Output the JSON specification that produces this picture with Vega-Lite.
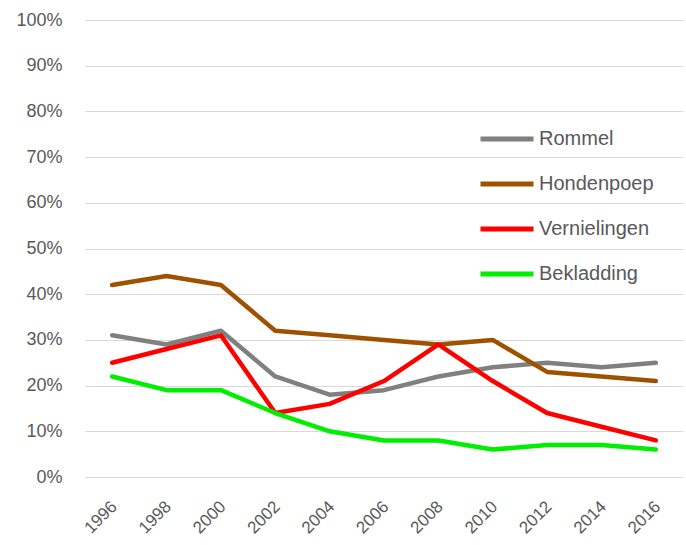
{
  "$schema": "https://vega.github.io/schema/vega-lite/v6.json",
  "width": 598,
  "height": 457,
  "autosize": {"type": "none"},
  "padding": {"left": 85, "top": 20, "right": 3, "bottom": 68},
  "background": "white",
  "config": {
    "view": {"stroke": null},
    "font": "Liberation Sans"
  },
  "data": {
    "values": [
      {"jaar": "1996", "serie": "Rommel", "waarde": 0.31},
      {"jaar": "1998", "serie": "Rommel", "waarde": 0.29},
      {"jaar": "2000", "serie": "Rommel", "waarde": 0.32},
      {"jaar": "2002", "serie": "Rommel", "waarde": 0.22},
      {"jaar": "2004", "serie": "Rommel", "waarde": 0.18},
      {"jaar": "2006", "serie": "Rommel", "waarde": 0.19},
      {"jaar": "2008", "serie": "Rommel", "waarde": 0.22},
      {"jaar": "2010", "serie": "Rommel", "waarde": 0.24},
      {"jaar": "2012", "serie": "Rommel", "waarde": 0.25},
      {"jaar": "2014", "serie": "Rommel", "waarde": 0.24},
      {"jaar": "2016", "serie": "Rommel", "waarde": 0.25},
      {"jaar": "1996", "serie": "Hondenpoep", "waarde": 0.42},
      {"jaar": "1998", "serie": "Hondenpoep", "waarde": 0.44},
      {"jaar": "2000", "serie": "Hondenpoep", "waarde": 0.42},
      {"jaar": "2002", "serie": "Hondenpoep", "waarde": 0.32},
      {"jaar": "2004", "serie": "Hondenpoep", "waarde": 0.31},
      {"jaar": "2006", "serie": "Hondenpoep", "waarde": 0.30},
      {"jaar": "2008", "serie": "Hondenpoep", "waarde": 0.29},
      {"jaar": "2010", "serie": "Hondenpoep", "waarde": 0.30},
      {"jaar": "2012", "serie": "Hondenpoep", "waarde": 0.23},
      {"jaar": "2014", "serie": "Hondenpoep", "waarde": 0.22},
      {"jaar": "2016", "serie": "Hondenpoep", "waarde": 0.21},
      {"jaar": "1996", "serie": "Vernielingen", "waarde": 0.25},
      {"jaar": "1998", "serie": "Vernielingen", "waarde": 0.28},
      {"jaar": "2000", "serie": "Vernielingen", "waarde": 0.31},
      {"jaar": "2002", "serie": "Vernielingen", "waarde": 0.14},
      {"jaar": "2004", "serie": "Vernielingen", "waarde": 0.16},
      {"jaar": "2006", "serie": "Vernielingen", "waarde": 0.21},
      {"jaar": "2008", "serie": "Vernielingen", "waarde": 0.29},
      {"jaar": "2010", "serie": "Vernielingen", "waarde": 0.21},
      {"jaar": "2012", "serie": "Vernielingen", "waarde": 0.14},
      {"jaar": "2014", "serie": "Vernielingen", "waarde": 0.11},
      {"jaar": "2016", "serie": "Vernielingen", "waarde": 0.08},
      {"jaar": "1996", "serie": "Bekladding", "waarde": 0.22},
      {"jaar": "1998", "serie": "Bekladding", "waarde": 0.19},
      {"jaar": "2000", "serie": "Bekladding", "waarde": 0.19},
      {"jaar": "2002", "serie": "Bekladding", "waarde": 0.14},
      {"jaar": "2004", "serie": "Bekladding", "waarde": 0.10},
      {"jaar": "2006", "serie": "Bekladding", "waarde": 0.08},
      {"jaar": "2008", "serie": "Bekladding", "waarde": 0.08},
      {"jaar": "2010", "serie": "Bekladding", "waarde": 0.06},
      {"jaar": "2012", "serie": "Bekladding", "waarde": 0.07},
      {"jaar": "2014", "serie": "Bekladding", "waarde": 0.07},
      {"jaar": "2016", "serie": "Bekladding", "waarde": 0.06}
    ]
  },
  "mark": {"type": "line", "strokeWidth": 4.5, "strokeCap": "round", "strokeJoin": "round"},
  "encoding": {
    "x": {
      "field": "jaar",
      "type": "ordinal",
      "title": null,
      "axis": {
        "labelAngle": -45,
        "labelAlign": "right",
        "labelBaseline": "top",
        "labelFontSize": 17,
        "labelColor": "#595959",
        "ticks": false,
        "domain": false,
        "labelPadding": 21,
        "labelOffset": -4
      }
    },
    "y": {
      "field": "waarde",
      "type": "quantitative",
      "title": null,
      "scale": {"domain": [0, 1]},
      "axis": {
        "format": ".0%",
        "values": [0, 0.1, 0.2, 0.3, 0.4, 0.5, 0.6, 0.7, 0.8, 0.9, 1],
        "labelFontSize": 18,
        "labelColor": "#595959",
        "ticks": false,
        "domain": false,
        "gridColor": "#d9d9d9",
        "gridWidth": 1,
        "labelPadding": 23
      }
    },
    "color": {
      "field": "serie",
      "type": "nominal",
      "sort": ["Rommel", "Hondenpoep", "Vernielingen", "Bekladding"],
      "scale": {
        "domain": ["Rommel", "Hondenpoep", "Vernielingen", "Bekladding"],
        "range": ["#808080", "#9e5200", "#ff0000", "#00ee00"]
      },
      "legend": {
        "title": null,
        "orient": "none",
        "legendX": 393,
        "legendY": 90,
        "symbolType": "stroke",
        "symbolSize": 2809,
        "symbolStrokeWidth": 5,
        "labelFontSize": 20,
        "labelColor": "#595959",
        "labelOffset": 3,
        "rowPadding": 6
      }
    }
  }
}
